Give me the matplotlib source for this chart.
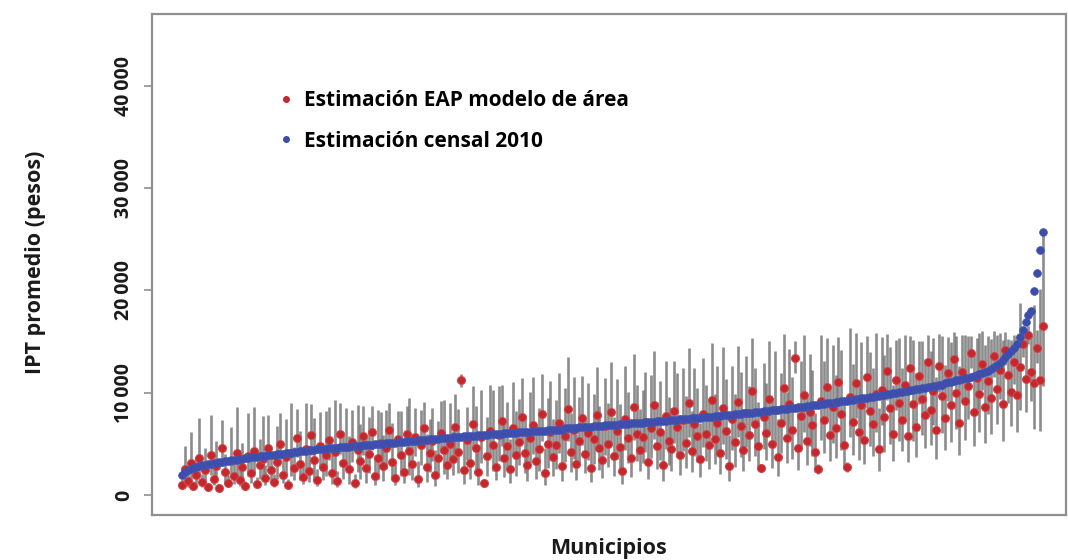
import numpy as np
import matplotlib
matplotlib.use("Agg")
import matplotlib.pyplot as plt
from matplotlib.lines import Line2D
from matplotlib.ticker import FuncFormatter

plt.rcParams["font.family"] = ["Open Sans", "DejaVu Sans"]

# IPT promedio por municipio, en miles de pesos, ordenado por la estimacion censal
censo_miles = [
    2.0, 2.2, 2.4, 2.5, 2.6, 2.7, 2.8, 2.9, 2.9, 3.0,
    3.0, 3.1, 3.1, 3.2, 3.2, 3.3, 3.3, 3.4, 3.4, 3.4,
    3.5, 3.5, 3.6, 3.6, 3.7, 3.7, 3.7, 3.8, 3.8, 3.8,
    3.9, 3.9, 3.9, 4.0, 4.0, 4.0, 4.1, 4.1, 4.1, 4.2,
    4.2, 4.3, 4.3, 4.3, 4.4, 4.4, 4.4, 4.5, 4.5, 4.5,
    4.5, 4.6, 4.6, 4.6, 4.6, 4.7, 4.7, 4.7, 4.7, 4.8,
    4.8, 4.8, 4.8, 4.9, 4.9, 4.9, 4.9, 5.0, 5.0, 5.0,
    5.0, 5.1, 5.1, 5.1, 5.1, 5.2, 5.2, 5.2, 5.3, 5.3,
    5.3, 5.3, 5.4, 5.4, 5.4, 5.4, 5.5, 5.5, 5.5, 5.5,
    5.6, 5.6, 5.6, 5.6, 5.7, 5.7, 5.7, 5.7, 5.8, 5.8,
    5.8, 5.8, 5.8, 5.9, 5.9, 5.9, 5.9, 6.0, 6.0, 6.0,
    6.0, 6.0, 6.1, 6.1, 6.1, 6.1, 6.1, 6.2, 6.2, 6.2,
    6.2, 6.2, 6.3, 6.3, 6.3, 6.3, 6.3, 6.4, 6.4, 6.4,
    6.4, 6.4, 6.4, 6.5, 6.5, 6.5, 6.5, 6.5, 6.6, 6.6,
    6.6, 6.6, 6.6, 6.7, 6.7, 6.7, 6.7, 6.8, 6.8, 6.8,
    6.8, 6.8, 6.9, 6.9, 6.9, 6.9, 7.0, 7.0, 7.0, 7.0,
    7.0, 7.1, 7.1, 7.1, 7.1, 7.2, 7.2, 7.2, 7.2, 7.3,
    7.3, 7.3, 7.3, 7.4, 7.4, 7.4, 7.4, 7.5, 7.5, 7.5,
    7.5, 7.6, 7.6, 7.6, 7.6, 7.7, 7.7, 7.7, 7.8, 7.8,
    7.8, 7.8, 7.9, 7.9, 7.9, 8.0, 8.0, 8.0, 8.0, 8.1,
    8.1, 8.1, 8.2, 8.2, 8.2, 8.3, 8.3, 8.3, 8.4, 8.4,
    8.4, 8.5, 8.5, 8.5, 8.6, 8.6, 8.6, 8.7, 8.7, 8.8,
    8.8, 8.8, 8.9, 8.9, 9.0, 9.0, 9.0, 9.1, 9.1, 9.2,
    9.2, 9.2, 9.3, 9.3, 9.4, 9.4, 9.5, 9.5, 9.5, 9.6,
    9.6, 9.7, 9.7, 9.8, 9.8, 9.9, 9.9, 10.0, 10.0, 10.1,
    10.1, 10.2, 10.2, 10.3, 10.3, 10.4, 10.4, 10.5, 10.5, 10.6,
    10.6, 10.7, 10.7, 10.8, 10.8, 10.9, 11.0, 11.0, 11.1, 11.2,
    11.2, 11.3, 11.4, 11.4, 11.5, 11.6, 11.7, 11.8, 11.9, 12.0,
    12.1, 12.3, 12.5, 12.7, 12.9, 13.2, 13.5, 13.8, 14.1, 14.4,
    14.8, 15.4, 16.1, 16.9, 17.6, 18.0, 19.9, 21.7, 23.9, 25.7,
]

# estimacion EAP del modelo de area, mismos municipios
eap_miles = [
    1.0, 2.5, 1.4, 3.1, 0.9, 2.0, 3.6, 1.3, 2.4, 0.8,
    3.9, 1.6, 2.8, 0.7, 4.6, 2.2, 1.2, 3.3, 1.9, 4.1,
    1.5, 2.7, 0.9, 3.8, 2.1, 4.3, 1.1, 2.9, 3.5, 1.7,
    4.6, 2.4, 1.3, 3.2, 5.0, 2.0, 3.7, 1.0, 4.1, 2.6,
    5.6, 3.0, 1.8, 4.5, 2.3, 5.9, 3.4, 1.5, 4.8, 2.7,
    3.9, 5.4, 2.1, 4.2, 1.4, 6.0, 3.1, 4.7, 2.5, 5.2,
    1.2, 4.4, 3.3, 5.8, 2.6, 4.0, 6.2, 1.9, 3.6, 5.1,
    2.8, 4.6, 6.4, 3.2, 1.7, 5.5, 3.9, 2.2, 6.0, 4.3,
    3.0, 5.7, 1.6, 4.9, 6.5, 2.7, 4.1, 5.3, 2.0, 3.6,
    6.1, 4.4, 2.9, 5.0, 3.5, 6.6, 4.2, 11.2, 2.4, 5.4,
    3.1, 6.9, 4.6, 2.2, 5.7, 1.2, 3.8, 6.3, 4.9, 2.7,
    5.9, 7.2, 3.6, 4.8, 2.5, 6.5, 3.9, 5.2, 7.6, 4.1,
    2.9, 5.6, 6.8, 3.3, 4.5, 7.9, 2.1, 5.0, 6.2, 3.7,
    4.9, 7.0, 2.8, 5.8, 8.4, 4.2, 6.4, 3.0, 5.3, 7.5,
    4.0, 6.1, 2.6, 5.5, 7.8, 4.6, 3.4, 6.7, 5.0, 8.1,
    3.8, 6.3, 4.7, 2.3, 7.4, 5.6, 3.6, 8.6, 6.0, 4.4,
    5.7, 7.1, 3.2, 6.5, 8.8, 4.8, 6.2, 2.9, 7.7, 5.3,
    4.5, 8.2, 6.6, 3.9, 7.3, 5.1, 9.0, 4.3, 6.9, 5.8,
    3.5, 7.9, 6.0, 4.9, 9.3, 5.5, 7.0, 4.1, 8.5, 6.3,
    2.8, 7.4, 5.2, 9.1, 6.7, 4.4, 8.0, 5.9, 10.2, 6.9,
    4.8, 2.6, 7.6, 6.1, 9.4, 5.0, 8.3, 3.7, 7.0, 10.5,
    5.6, 8.9, 6.4, 13.4, 4.6, 7.7, 9.8, 5.3, 8.1, 6.8,
    4.2, 2.5, 9.2, 7.3, 10.6, 5.9, 8.6, 6.5, 11.0, 7.9,
    4.9, 2.7, 9.6, 7.1, 10.9, 6.2, 8.8, 5.4, 11.5, 8.2,
    6.9, 9.9, 4.5, 10.3, 7.6, 12.1, 8.5, 6.0, 11.2, 9.0,
    7.3, 10.8, 5.8, 12.4, 8.9, 6.6, 11.6, 9.4, 7.8, 13.0,
    8.3, 10.2, 6.4, 12.6, 9.7, 7.5, 11.9, 8.8, 13.3, 10.0,
    7.0, 12.0, 9.2, 10.7, 13.9, 8.1, 11.4, 9.9, 12.8, 8.6,
    11.1, 9.5, 13.6, 10.4, 12.2, 8.9, 14.2, 11.7, 10.1, 13.0,
    9.8, 12.5, 14.8, 11.3, 15.6, 12.0, 10.9, 14.4, 11.2, 16.5,
]

# amplitud multiplicativa del intervalo de credibilidad (EAP / f, EAP * f)
factor_ic = [
    1.6, 1.9, 1.7, 2.0, 1.5, 1.8, 2.1, 1.6, 1.9, 1.5,
    2.0, 1.7, 1.9, 1.5, 1.6, 1.8, 1.6, 2.0, 1.7, 2.1,
    1.7, 1.9, 1.5, 2.1, 1.8, 2.0, 1.6, 1.9, 2.2, 1.7,
    1.7, 1.8, 1.6, 2.1, 1.6, 1.7, 2.0, 1.6, 2.2, 1.8,
    1.5, 2.1, 1.7, 2.0, 1.8, 1.5, 2.2, 1.7, 1.7, 1.8,
    2.1, 1.6, 1.9, 2.2, 1.7, 1.5, 2.0, 1.8, 2.3, 1.6,
    1.7, 2.0, 2.1, 1.5, 2.2, 1.9, 1.4, 2.0, 2.3, 1.6,
    2.1, 1.8, 1.4, 2.2, 1.8, 1.5, 2.1, 1.9, 1.45, 2.2,
    2.0, 1.5, 2.1, 1.7, 1.4, 2.2, 1.8, 1.6, 2.2, 2.0,
    1.5, 2.1, 1.9, 1.8, 1.8, 1.5, 2.0, 1.06, 2.2, 1.6,
    2.0, 1.55, 1.9, 2.2, 1.8, 1.3, 2.0, 1.7, 2.1, 1.9,
    1.8, 1.5, 2.0, 1.9, 2.2, 1.7, 2.1, 1.8, 1.5, 1.9,
    2.1, 1.8, 1.7, 2.1, 1.9, 1.5, 2.2, 1.9, 1.8, 2.0,
    1.9, 1.7, 2.1, 1.8, 1.6, 1.9, 1.8, 2.0, 1.8, 1.55,
    1.9, 1.8, 2.1, 1.8, 1.6, 1.9, 2.0, 1.7, 1.8, 1.6,
    2.0, 1.8, 1.9, 2.1, 1.7, 1.8, 2.0, 1.6, 1.8, 1.9,
    1.8, 1.7, 2.0, 1.8, 1.6, 1.9, 1.8, 2.1, 1.7, 1.8,
    1.9, 1.6, 1.8, 2.0, 1.7, 1.9, 1.6, 1.9, 1.8, 1.8,
    2.0, 1.7, 1.8, 1.9, 1.6, 1.8, 1.8, 2.0, 1.7, 1.8,
    2.1, 1.7, 1.9, 1.6, 1.8, 1.9, 1.7, 1.8, 1.5, 1.8,
    1.9, 1.15, 1.7, 1.8, 1.6, 1.9, 1.7, 2.0, 1.7, 1.5,
    1.8, 1.6, 1.8, 1.12, 1.9, 1.7, 1.6, 1.8, 1.7, 1.8,
    1.9, 1.2, 1.7, 1.8, 1.45, 1.8, 1.7, 1.8, 1.4, 1.8,
    1.9, 1.2, 1.7, 1.8, 1.45, 1.8, 1.7, 1.8, 1.35, 1.7,
    1.8, 1.6, 1.9, 1.5, 1.8, 1.3, 1.7, 1.8, 1.35, 1.7,
    1.7, 1.45, 1.8, 1.25, 1.7, 1.8, 1.3, 1.6, 1.7, 1.2,
    1.7, 1.5, 1.8, 1.25, 1.6, 1.7, 1.3, 1.7, 1.2, 1.55,
    1.8, 1.3, 1.7, 1.45, 1.12, 1.7, 1.35, 1.6, 1.25, 1.7,
    1.4, 1.6, 1.18, 1.5, 1.3, 1.7, 1.12, 1.3, 1.5, 1.2,
    1.6, 1.5, 1.1, 1.4, 1.06, 1.3, 1.7, 1.12, 1.8, 1.55,
]

yticks = [0, 10000, 20000, 30000, 40000]

censo = np.array(censo_miles) * 1000
eap = np.array(eap_miles) * 1000
f = np.array(factor_ic)
ic_inf = eap / f
ic_sup = eap * f
x = np.arange(len(censo))

rojo = "#c4272c"
azul = "#3c4caa"
gris = "#6f6f6f"

fig = plt.figure(figsize=(10.68, 5.6), dpi=100)
ax = fig.add_axes([0.1423, 0.0804, 0.8557, 0.8946])

ax.vlines(x, ic_inf, ic_sup, color=gris, lw=1.9, alpha=0.8, zorder=1)
ax.plot(x, eap, "o", color=rojo, ms=5.8, mec="#d24a4f", mew=0.7, zorder=2)
ax.plot(x, censo, "o", color=azul, ms=5.6, mec="#4656b4", mew=0.5, zorder=3)

ax.set_xlim(-10.4, len(x) - 1 + 8.0)
ax.set_ylim(-1955, 47020)

for s in ax.spines.values():
    s.set_color("#8f8f8f")
    s.set_linewidth(1.6)

ax.set_xticks([])
ax.set_yticks(yticks)
ax.yaxis.set_major_formatter(FuncFormatter(lambda v, p: f"{v:,.0f}".replace(",", "\u2009")))
ax.tick_params(axis="y", length=6, width=1.2, color="#8f8f8f", pad=7,
               labelsize=14, labelcolor="#1a1a1a")
for lab in ax.get_yticklabels():
    lab.set_rotation(90)
    lab.set_va("center")
    lab.set_fontweight("bold")

fig.text(0.033, 0.532, "IPT promedio (pesos)", rotation=90, ha="center", va="center",
         fontsize=15.5, fontweight="bold", color="#1a1a1a")
fig.text(0.57, 0.021, "Municipios", ha="center", va="center",
         fontsize=15.5, fontweight="bold", color="#1a1a1a")

handles = [
    Line2D([], [], ls="", marker="o", color=rojo, ms=4),
    Line2D([], [], ls="", marker="o", color=azul, ms=4),
]
ax.legend(handles, ["Estimación EAP modelo de área", "Estimación censal 2010"],
          loc="upper left", bbox_to_anchor=(0.119, 0.886), frameon=False,
          handlelength=0.6, handletextpad=0.6, labelspacing=0.95,
          prop={"weight": "bold", "size": 15})

fig.savefig("out.png", dpi=100)
